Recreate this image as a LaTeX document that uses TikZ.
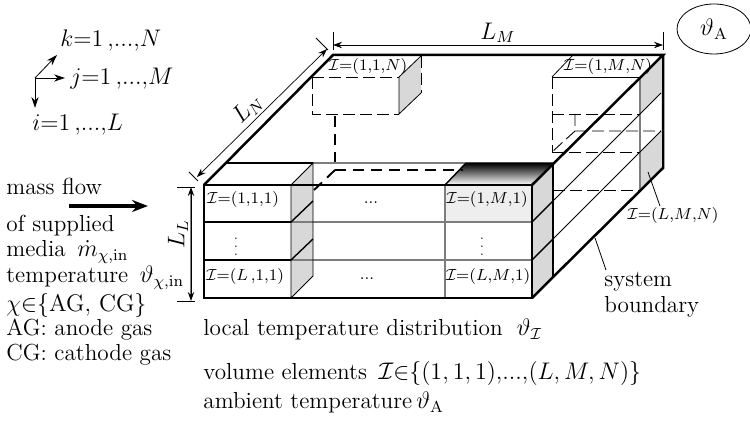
\documentclass[tikz,border=0pt]{standalone}
\usepackage{amsmath,amssymb}
\usepackage{tikz}
\usetikzlibrary{arrows.meta,shapes.geometric}
\definecolor{cside}{RGB}{216,216,216}
\definecolor{cfront}{RGB}{238,238,238}
\definecolor{cgrid}{RGB}{125,125,125}
\newcommand{\idx}{\mathcal{I}}
\tikzset{
  wall/.style={black, line width=1.25pt, line join=miter},
  thickln/.style={black, line width=.7pt},
  thinln/.style={black, line width=.4pt},
  gridln/.style={cgrid, line width=.6pt},
  hidden/.style={black, line width=.45pt, dash pattern=on 6pt off 2.5pt},
  hiddenb/.style={black, line width=.95pt, dash pattern=on 5.5pt off 3.5pt},
  dimln/.style={{Stealth[length=4.5pt,width=3.2pt]}-{Stealth[length=4.5pt,width=3.2pt]}, line width=.35pt},
  axln/.style={-{Stealth[length=5.5pt,width=3.6pt]}, line width=.4pt},
  celltxt/.style={font=\footnotesize, inner sep=0pt},
  txt/.style={font=\fontsize{11.6}{14}\selectfont, anchor=base west, inner sep=0pt},
}
\begin{document}
\begin{tikzpicture}[x=.5pt, y=-.5pt]
  \useasboundingbox (0,0) rectangle (750,421);
  % faces
  \fill[cfront] (445,185) rectangle (532,222);
  \shade[top color=black, bottom color=white] (445,185) -- (466,163) -- (553,163) -- (532,185) -- cycle;
  \fill[cside] (291,185) -- (313,163) -- (313,276) -- (291,298) -- cycle;
  \fill[cside] (532,185) -- (553,163) -- (553,276) -- (532,298) -- cycle;
  \fill[cside] (399,77) -- (421,56) -- (421,93) -- (399,114) -- cycle;
  \fill[cside] (640,77) -- (661,56) -- (661,93) -- (640,113) -- cycle;
  \fill[cside] (640,152) -- (661,132) -- (661,168) -- (640,190) -- cycle;
  % hidden elements at the back
  \draw[hidden] (312,77) -- (399,77) (312,77) -- (312,114) -- (399,114);
  \draw[hidden] (421,56) -- (421,93);
  \draw[thinln] (399,77) -- (399,114) -- (421,93);
  \draw[thinln] (399,77) -- (421,56);
  \draw[hiddenb] (335,116) -- (335,170) -- (463,170);
  \draw[hiddenb] (335,170) -- (313,191);
  \draw[thinln] (552,77) -- (573,55);
  \draw[thinln] (552,77) -- (640,77);
  \draw[hidden] (552,77) -- (552,152);
  \draw[hidden] (552,114) -- (640,114);
  \draw[hidden] (552,152) -- (640,152);
  \draw[hidden] (553,190) -- (640,190);
  \draw[hidden] (575,131) -- (661,131) (575,114) -- (575,131) -- (552,152);
  \draw[gridln] (640,77) -- (640,190);
  % lines on the right wall
  \draw[thinln] (532,222) -- (661,93);
  \draw[thinln] (532,260) -- (661,131);
  % lines of the front
  \draw[thickln] (225,163) -- (313,163);
  \draw[gridln] (313,163) -- (466,163);
  \draw[gridln] (291,222) -- (532,222) (291,260) -- (532,260);
  \draw[thickln] (204,222) -- (291,222) (204,260) -- (291,260);
  \draw[gridln] (445,185) -- (445,298);
  \draw[thinln] (291,185) -- (291,298) -- (313,276) -- (313,163) -- (291,185);
  \draw[thickln] (291,222) -- (313,201) (291,260) -- (313,239);
  \draw[thickln] (532,222) -- (553,201) (532,260) -- (553,239);
  \draw[thickln] (553,163) -- (553,276);
  \draw[thickln] (445,185) -- (466,163) (466,163) -- (553,163);
  % system boundary
  \draw[wall] (204,185) -- (532,185) -- (532,298) -- (204,298) -- cycle;
  \draw[wall] (204,185) -- (333,55) -- (663,55) -- (532,185);
  \draw[wall] (663,55) -- (663,168) -- (532,298);
  % dimensions
  \draw[thinln] (333,32) -- (333,50) (663,32) -- (663,50);
  \draw[dimln] (333,45) -- (663,45);
  \node[font=\fontsize{11.6}{14}\selectfont] (lm) at (498,33) {$L_M$};
  \draw[thinln] (316,38) -- (328,50) (189,172) -- (198,181);
  \draw[dimln] (327,49) -- (197,177);
  \node[font=\fontsize{11.6}{14}\selectfont, rotate=45] (ln) at (248,109) {$L_N$};
  \draw[thinln] (177,187) -- (195,187) (177,301) -- (195,301);
  \draw[gridln] (191,190) -- (191,298);
  \draw[dimln, draw=black, line width=0pt] (191,187) -- (191,301);
  \node[font=\fontsize{11.6}{14}\selectfont, rotate=90] (ll) at (178,234) {$L_L$};
  % ambient
  \node[draw, ellipse, line width=.4pt, minimum width=37pt, minimum height=25pt, inner sep=0pt] (amb) at (714,29) {\fontsize{11.6}{14}\selectfont$\vartheta_{\mathrm{A}}$};
  % axes
  \coordinate (orig) at (35,78);
  \coordinate (ke) at (57,55);
  \coordinate (je) at (65,78);
  \coordinate (ie) at (35,108);
  \draw[axln] (orig) -- (ke);
  \draw[axln] (orig) -- (je);
  \draw[axln] (orig) -- (ie);
  \node[txt] (kl) at (60,47) {$k{=}1\,{,}...{,}N$};
  \node[txt] (jl) at (70,85) {$j{=}1\,{,}...{,}M$};
  \node[txt] (il) at (32,131) {$i{=}1\,{,}...{,}L$};
  % inlet
  \node[txt] (t1) at (6,195) {mass flow};
  \coordinate (fa) at (69,206);
  \coordinate (fb) at (148,206);
  \draw[-{Stealth[length=8pt,width=6pt]}, line width=1.6pt] (fa) -- (fb);
  \node[txt] (t2) at (6,232) {of supplied};
  \node[txt] (t3) at (6,257) {media $\,\dot{m}_{\chi,\mathrm{in}}$};
  \node[txt] (t4) at (6,283) {temperature $\,\vartheta_{\chi,\mathrm{in}}$};
  \node[txt] (t5) at (6,312) {$\chi{\in}\{\mathrm{AG},\,\mathrm{CG}\}$};
  \node[txt] (t6) at (6,336) {AG: anode gas};
  \node[txt] (t7) at (6,361) {CG: cathode gas};
  % cells
  \node[celltxt] (c111) at (243,200) {$\idx{=}(1{,}1{,}1)$};
  \node[celltxt] (cl11) at (245,277) {$\idx{=}(L\,{,}1{,}1)$};
  \node[celltxt] (c1m1) at (487,200) {$\idx{=}(1{,}M{,}1)$};
  \node[celltxt] (clm1) at (488,277) {$\idx{=}(L{,}M{,}1)$};
  \node[celltxt] (c11n) at (368,67) {$\idx{=}(1{,}1{,}N)$};
  \node[celltxt] (c1mn) at (608,67) {$\idx{=}(1{,}M{,}N)$};
  \node[celltxt] (clmn) at (673,216) {$\idx{=}(L{,}M{,}N)$};
  \node[celltxt] (d1) at (371,203) {...};
  \node[celltxt] (d2) at (367,279) {...};
  \node[celltxt, font=\fontsize{6}{6}\selectfont] (d3) at (236,241) {$\vdots$};
  \node[celltxt, font=\fontsize{6}{6}\selectfont] (d4) at (482,241) {$\vdots$};
  \coordinate (el) at (648,172);
  \coordinate (ee) at (660,206);
  \draw[thinln] (el) -- (ee);
  % notes
  \node[txt] (sb1) at (604,287) {system};
  \node[txt] (sb2) at (604,313) {boundary};
  \coordinate (bd) at (595,238);
  \coordinate (be) at (606,270);
  \draw[thinln] (bd) -- (be);
  \node[txt] (n1) at (203,336) {local temperature distribution $\;\vartheta_{\idx}$};
  \node[txt] (n2) at (203,380) {volume elements $\,\idx{\in}\{(1,1,1){,}...{,}(L,M,N)\}$};
  \node[txt] (n3) at (203,409) {ambient temperature$\,\vartheta_{\mathrm{A}}$};
\end{tikzpicture}
\end{document}
